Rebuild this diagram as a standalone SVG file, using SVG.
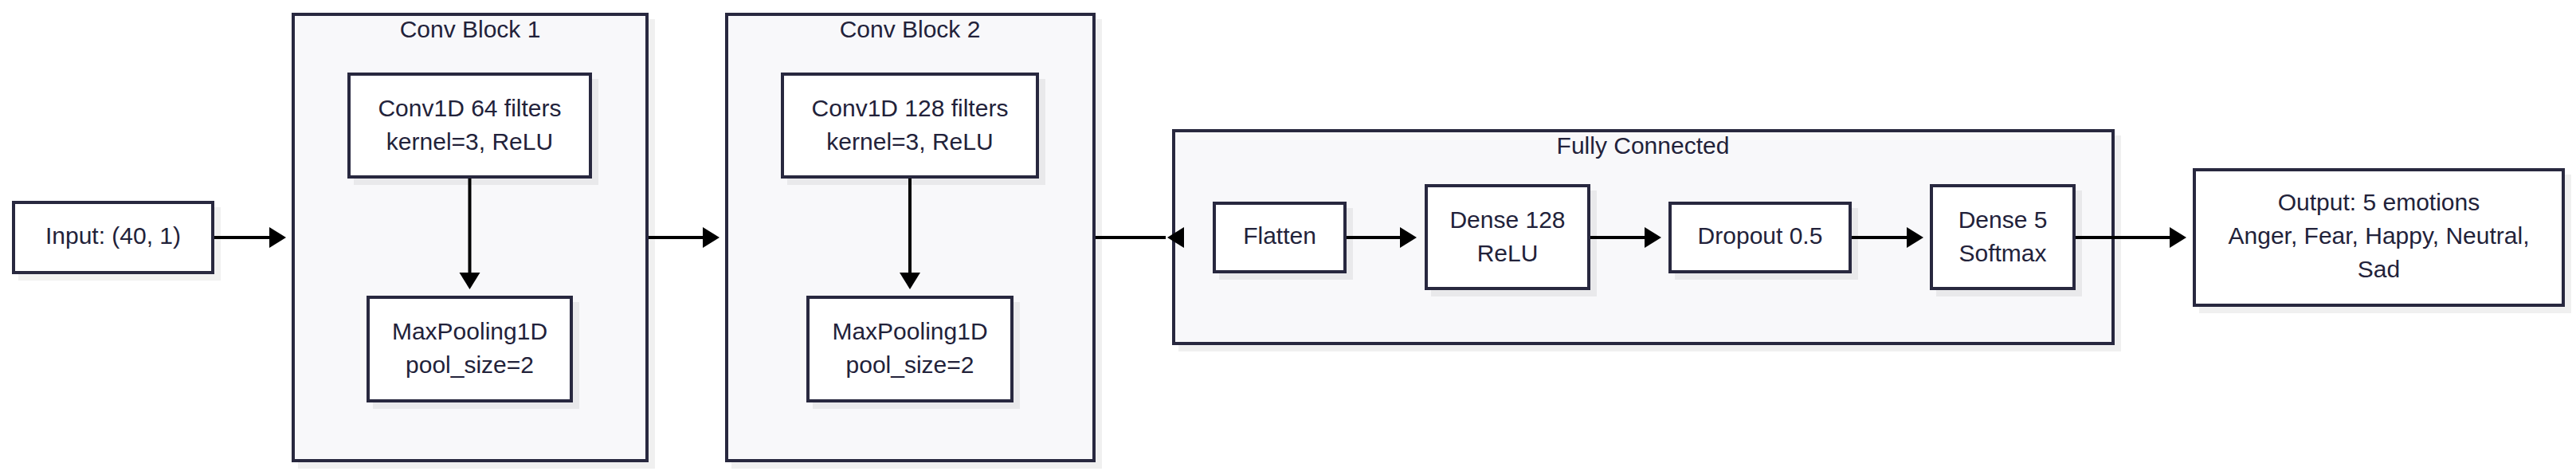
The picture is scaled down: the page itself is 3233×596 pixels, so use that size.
<svg xmlns="http://www.w3.org/2000/svg" width="3233" height="596" viewBox="0 0 3233 596">
  <style>
    .bg { fill: #ffffff; }
    .shadow { fill: #000000; fill-opacity: 0.06; }
    .cluster { fill: #f8f8fa; stroke: #28283f; stroke-width: 4; }
    .node { fill: #ffffff; stroke: #28283f; stroke-width: 4; }
    .label { font-family: "Liberation Sans", Arial, sans-serif; font-size: 30px; fill: #22223a; text-anchor: middle; }
    .edge { stroke: #000000; stroke-width: 4; fill: none; }
  </style>
  <defs>
    <marker id="arrow" markerUnits="userSpaceOnUse" markerWidth="22" markerHeight="26" refX="0" refY="13" orient="auto" overflow="visible">
      <path d="M0,0 L21,13 L0,26 Z" fill="#000000"/>
    </marker>
    <marker id="arrowBack" markerUnits="userSpaceOnUse" markerWidth="24" markerHeight="26" refX="-2" refY="13" orient="auto" overflow="visible">
      <path d="M21,0 L0,13 L21,26 Z" fill="#000000"/>
    </marker>
  </defs>
  <rect class="bg" x="0" y="0" width="3233" height="596"/>

  <g id="cluster-conv1">
    <rect class="shadow" x="374" y="24" width="448" height="564"/>
    <rect class="cluster" x="368" y="18" width="444" height="560"/>
    <text class="label" x="590" y="47">Conv Block 1</text>
  </g>
  <g id="cluster-conv2">
    <rect class="shadow" x="918" y="24" width="465" height="564"/>
    <rect class="cluster" x="912" y="18" width="461" height="560"/>
    <text class="label" x="1142" y="47">Conv Block 2</text>
  </g>
  <g id="cluster-fc">
    <rect class="shadow" x="1479" y="170" width="1183" height="271"/>
    <rect class="cluster" x="1473" y="164" width="1179" height="267"/>
    <text class="label" x="2062" y="193">Fully Connected</text>
  </g>

  <g id="node-input">
    <rect class="shadow" x="23" y="260" width="254" height="92"/>
    <rect class="node" x="17" y="254" width="250" height="88"/>
    <text class="label" x="142" y="306">Input: (40, 1)</text>
  </g>
  <g id="node-conv64">
    <rect class="shadow" x="444" y="99" width="307" height="133"/>
    <rect class="node" x="438" y="93" width="303" height="129"/>
    <text class="label" x="589.5" y="146">Conv1D 64 filters</text>
    <text class="label" x="589.5" y="188">kernel=3, ReLU</text>
  </g>
  <g id="node-pool1">
    <rect class="shadow" x="468" y="379" width="259" height="134"/>
    <rect class="node" x="462" y="373" width="255" height="130"/>
    <text class="label" x="589.5" y="426">MaxPooling1D</text>
    <text class="label" x="589.5" y="468">pool_size=2</text>
  </g>
  <g id="node-conv128">
    <rect class="shadow" x="988" y="99" width="324" height="133"/>
    <rect class="node" x="982" y="93" width="320" height="129"/>
    <text class="label" x="1142" y="146">Conv1D 128 filters</text>
    <text class="label" x="1142" y="188">kernel=3, ReLU</text>
  </g>
  <g id="node-pool2">
    <rect class="shadow" x="1020" y="379" width="260" height="134"/>
    <rect class="node" x="1014" y="373" width="256" height="130"/>
    <text class="label" x="1142" y="426">MaxPooling1D</text>
    <text class="label" x="1142" y="468">pool_size=2</text>
  </g>
  <g id="node-flatten">
    <rect class="shadow" x="1530" y="261" width="168" height="90"/>
    <rect class="node" x="1524" y="255" width="164" height="86"/>
    <text class="label" x="1606" y="306">Flatten</text>
  </g>
  <g id="node-dense128">
    <rect class="shadow" x="1796" y="239" width="208" height="133"/>
    <rect class="node" x="1790" y="233" width="204" height="129"/>
    <text class="label" x="1892" y="286">Dense 128</text>
    <text class="label" x="1892" y="328">ReLU</text>
  </g>
  <g id="node-dropout">
    <rect class="shadow" x="2102" y="261" width="230" height="90"/>
    <rect class="node" x="2096" y="255" width="226" height="86"/>
    <text class="label" x="2209" y="306">Dropout 0.5</text>
  </g>
  <g id="node-dense5">
    <rect class="shadow" x="2430" y="239" width="183" height="133"/>
    <rect class="node" x="2424" y="233" width="179" height="129"/>
    <text class="label" x="2513.5" y="286">Dense 5</text>
    <text class="label" x="2513.5" y="328">Softmax</text>
  </g>
  <g id="node-output">
    <rect class="shadow" x="2760" y="219" width="467" height="174"/>
    <rect class="node" x="2754" y="213" width="463" height="170"/>
    <text class="label" x="2985.5" y="264">Output: 5 emotions</text>
    <text class="label" x="2985.5" y="306">Anger, Fear, Happy, Neutral,</text>
    <text class="label" x="2985.5" y="348">Sad</text>
  </g>

  <g id="connectors">
    <line class="edge" x1="269" y1="298" x2="338" y2="298" marker-end="url(#arrow)"/>
    <line class="edge" x1="589.5" y1="224" x2="589.5" y2="342" marker-end="url(#arrow)"/>
    <line class="edge" x1="814" y1="298" x2="882" y2="298" marker-end="url(#arrow)"/>
    <line class="edge" x1="1142" y1="224" x2="1142" y2="342" marker-end="url(#arrow)"/>
    <line class="edge" x1="1375" y1="298" x2="1463" y2="298" marker-end="url(#arrowBack)"/>
    <line class="edge" x1="1690" y1="298" x2="1757" y2="298" marker-end="url(#arrow)"/>
    <line class="edge" x1="1996" y1="298" x2="2064" y2="298" marker-end="url(#arrow)"/>
    <line class="edge" x1="2324" y1="298" x2="2393" y2="298" marker-end="url(#arrow)"/>
    <line class="edge" x1="2605" y1="298" x2="2723" y2="298" marker-end="url(#arrow)"/>
  </g>
</svg>
